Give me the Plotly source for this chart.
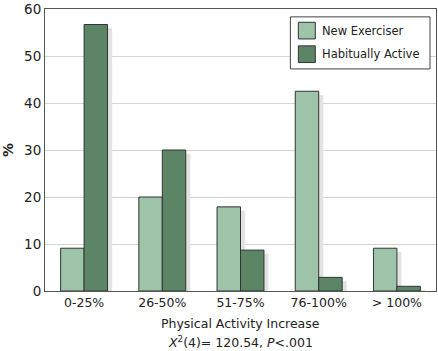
import plotly.graph_objects as go

categories = ["0-25%", "26-50%", "51-75%", "76-100%", "> 100%"]
new_exerciser = [9.1, 20.0, 17.9, 42.5, 9.1]
habitually_active = [56.7, 30.0, 8.7, 2.9, 1.0]
series_names = ["New Exerciser", "Habitually Active"]

x_idx = list(range(len(categories)))
bar_w = 0.3
sh_dx = 0.058
sh_dy = 0.8

LIGHT = "#9dc3a8"
DARK = "#5b8564"
EDGE = "#333333"
SHADOW = "#e2e2e2"
FONT = "DejaVu Sans"

W, H = 438, 351
ML, MR, MT, MB = 45, 1, 4, 60
PW, PH = W - ML - MR, H - MT - MB


def px(x):
    return (x - ML) / PW


def py(y):
    return (H - MB - y) / PH


fig = go.Figure()
for vals, off in [(new_exerciser, -bar_w), (habitually_active, 0.0)]:
    fig.add_trace(go.Bar(
        x=x_idx, y=[max(v - sh_dy, 0) for v in vals],
        offset=off + sh_dx, width=bar_w,
        marker=dict(color=SHADOW, line=dict(width=0)),
        showlegend=False, hoverinfo="skip"))

fig.add_trace(go.Bar(
    x=x_idx, y=new_exerciser, name=series_names[0],
    offset=-bar_w, width=bar_w, showlegend=False,
    marker=dict(color=LIGHT, line=dict(color=EDGE, width=1))))
fig.add_trace(go.Bar(
    x=x_idx, y=habitually_active, name=series_names[1],
    offset=0.0, width=bar_w, showlegend=False,
    marker=dict(color=DARK, line=dict(color=EDGE, width=1))))

# custom legend
shapes = [dict(type="rect", xref="paper", yref="paper",
               x0=px(291), x1=px(431), y0=py(65), y1=py(12),
               fillcolor="white", line=dict(color="#444444", width=1), layer="above")]
annotations = []
for i, (name, col) in enumerate(zip(series_names, [LIGHT, DARK])):
    top = 17.5 + i * 24
    shapes.append(dict(type="rect", xref="paper", yref="paper",
                       x0=px(299), x1=px(316), y0=py(top + 17), y1=py(top),
                       fillcolor=col, line=dict(color=EDGE, width=1), layer="above"))
    annotations.append(dict(text=name, xref="paper", yref="paper",
                            x=px(321), y=py(top + 8.5), xanchor="left", yanchor="middle",
                            showarrow=False, font=dict(size=11.5, color="#222222")))

annotations += [
    dict(text="Physical Activity Increase", xref="paper", yref="paper",
         x=0.5, y=-0.08, yanchor="top", showarrow=False,
         font=dict(size=12.5)),
    dict(text="<i>X</i><sup>2</sup>(4)= 120.54, <i>P</i>&lt;.001", xref="paper", yref="paper",
         x=0.5, y=-0.145, yanchor="top", showarrow=False,
         font=dict(size=12.5)),
]

fig.update_layout(
    width=W, height=H,
    margin=dict(l=ML, r=MR, t=MT, b=MB),
    barmode="overlay",
    plot_bgcolor="white", paper_bgcolor="white",
    font=dict(family=FONT, size=12, color="#222222"),
    showlegend=False,
    xaxis=dict(
        range=[-0.5, len(categories) - 0.5],
        tickvals=x_idx, ticktext=categories,
        showline=True, mirror=True, linecolor="#555555", linewidth=1,
        ticks="", showgrid=False, zeroline=False,
        tickfont=dict(size=12.5),
    ),
    yaxis=dict(
        range=[0, 60], dtick=10,
        showline=True, mirror=True, linecolor="#555555", linewidth=1,
        ticks="", gridcolor="#d4d4d4", zeroline=False,
        tickfont=dict(size=13.5), ticklabeloverflow="allow",
        title=dict(text="<b>%</b>", font=dict(size=14), standoff=12),
    ),
    shapes=shapes,
    annotations=annotations,
)

fig.write_html("out.html")
